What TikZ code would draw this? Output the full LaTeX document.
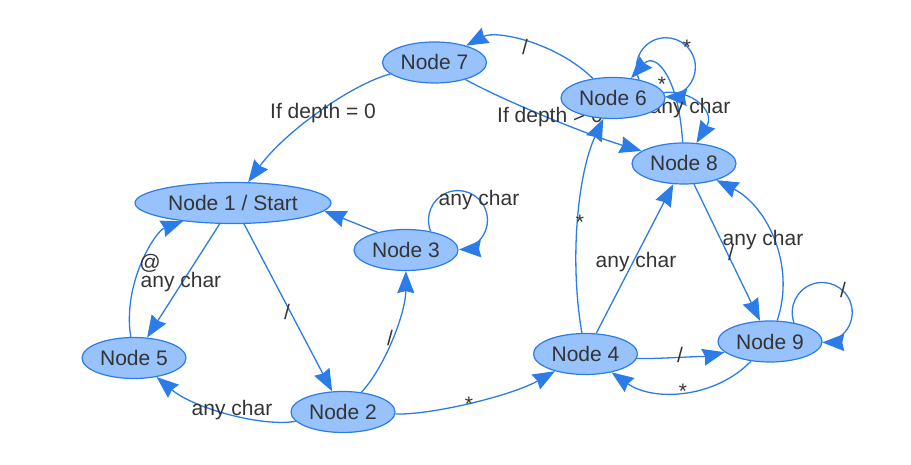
\documentclass[tikz,border=0pt]{standalone}
\usepackage{fontspec}
\setmainfont{Liberation Sans}
\usetikzlibrary{arrows.meta,shapes.geometric}
\definecolor{nfill}{HTML}{97C2FC}
\definecolor{nline}{HTML}{2B7CE9}
\definecolor{ntext}{HTML}{343434}
\pgfdeclarelayer{bg}
\pgfsetlayers{bg,main}
\begin{document}
\begin{tikzpicture}[x=1pt,y=1pt,
  state/.style={ellipse, draw=nline, fill=nfill, line width=1.2pt, minimum width=104pt, minimum height=41pt, inner sep=0pt, text=ntext, font=\fontsize{21}{25}\selectfont},
  edge/.style={draw=nline, line width=1.3pt, -{Stealth[length=22pt,width=17pt,inset=2pt]}},
  lbl/.style={text=ntext, font=\fontsize{21}{25}\selectfont, inner sep=0pt}
]
\useasboundingbox (0,0) rectangle (911,465);
% nodes
\node[state, minimum width=196pt] (n1) at (233,262) {Node 1 / Start};
\node[state] (n2) at (343,53) {Node 2};
\node[state] (n3) at (406,215) {Node 3};
\node[state] (n4) at (585.5,111) {Node 4};
\node[state] (n5) at (134,107) {Node 5};
\node[state] (n6) at (613,367) {Node 6};
\node[state] (n7) at (434.5,402.5) {Node 7};
\node[state] (n8) at (684,301.5) {Node 8};
\node[state] (n9) at (770,123.5) {Node 9};
\begin{pgfonlayer}{bg}
% edges
\draw[edge] (n7) .. controls (353,381.3) and (285.8,334.5) .. (n1);
\draw[edge] (n7) .. controls (505.3,363.5) and (588.5,329.8) .. (n8);
\draw[edge] (n6) .. controls (555.2,423.2) and (495.7,435) .. (n7);
\draw[edge] (n6.35) arc[start angle=205, end angle=-92, radius=29.5];
\draw[edge] (n8) .. controls (678.3,391) and (654.7,412.8) .. (n6);
\draw[edge] (n6) .. controls (692,375.5) and (715.7,353.7) .. (n8);
\draw[edge] (n1) -- (n5);
\draw[edge] (n5) .. controls (122.3,182) and (155.3,233.7) .. (n1);
\draw[edge] (n1) -- (n2);
\draw[edge] (n2) .. controls (384.7,97.7) and (405.7,151.7) .. (n3);
\draw[edge] (n3.148) -- (n1.-5);
\draw[edge] (n3.37.6) arc[start angle=202.5, end angle=-88, radius=29.5];
\draw[edge] (n2) .. controls (264.7,37.7) and (195,55.7) .. (n5);
\draw[edge] (n2) .. controls (430.2,49.7) and (511,69) .. (n4);
\draw[edge] (n4) .. controls (569,207) and (578.2,292.3) .. (n6);
\draw[edge] (n4) -- (n8);
\draw[edge] (n4) .. controls (650,105.5) and (711.5,109.7) .. (n9);
\draw[edge] (n9) .. controls (715.5,67) and (654,62.8) .. (n4);
\draw[edge] (n8) -- (n9);
\draw[edge] (n9) .. controls (796,199.5) and (767.3,258.8) .. (n8);
\draw[edge] (n9.38.9) arc[start angle=200, end angle=-90, radius=30];
% labels
\node[lbl] (l1) at (323,351.5) {If depth = 0};
\node[lbl] (l2) at (550,348) {If depth > 0};
\node[lbl] (l3) at (525,418) {/};
\node[lbl] (l4) at (687,418) {*};
\node[lbl] (l5) at (662,381) {*};
\node[lbl] (l6) at (690,357) {any char};
\node[lbl] (l7) at (181,183) {any char};
\node[lbl] (l8) at (150,202) {@};
\node[lbl] (l9) at (287,153) {/};
\node[lbl] (l10) at (390,127) {/};
\node[lbl] (l11) at (479,265) {any char};
\node[lbl] (l12) at (232,55) {any char};
\node[lbl] (l13) at (469,61) {*};
\node[lbl] (l14) at (580,243) {*};
\node[lbl] (l15) at (636,203) {any char};
\node[lbl] (l16) at (680,110) {/};
\node[lbl] (l17) at (683,74) {*};
\node[lbl] (l18) at (731,212) {/};
\node[lbl] (l19) at (763,225) {any char};
\node[lbl] (l20) at (843,175) {/};
\end{pgfonlayer}
\end{tikzpicture}
\end{document}
